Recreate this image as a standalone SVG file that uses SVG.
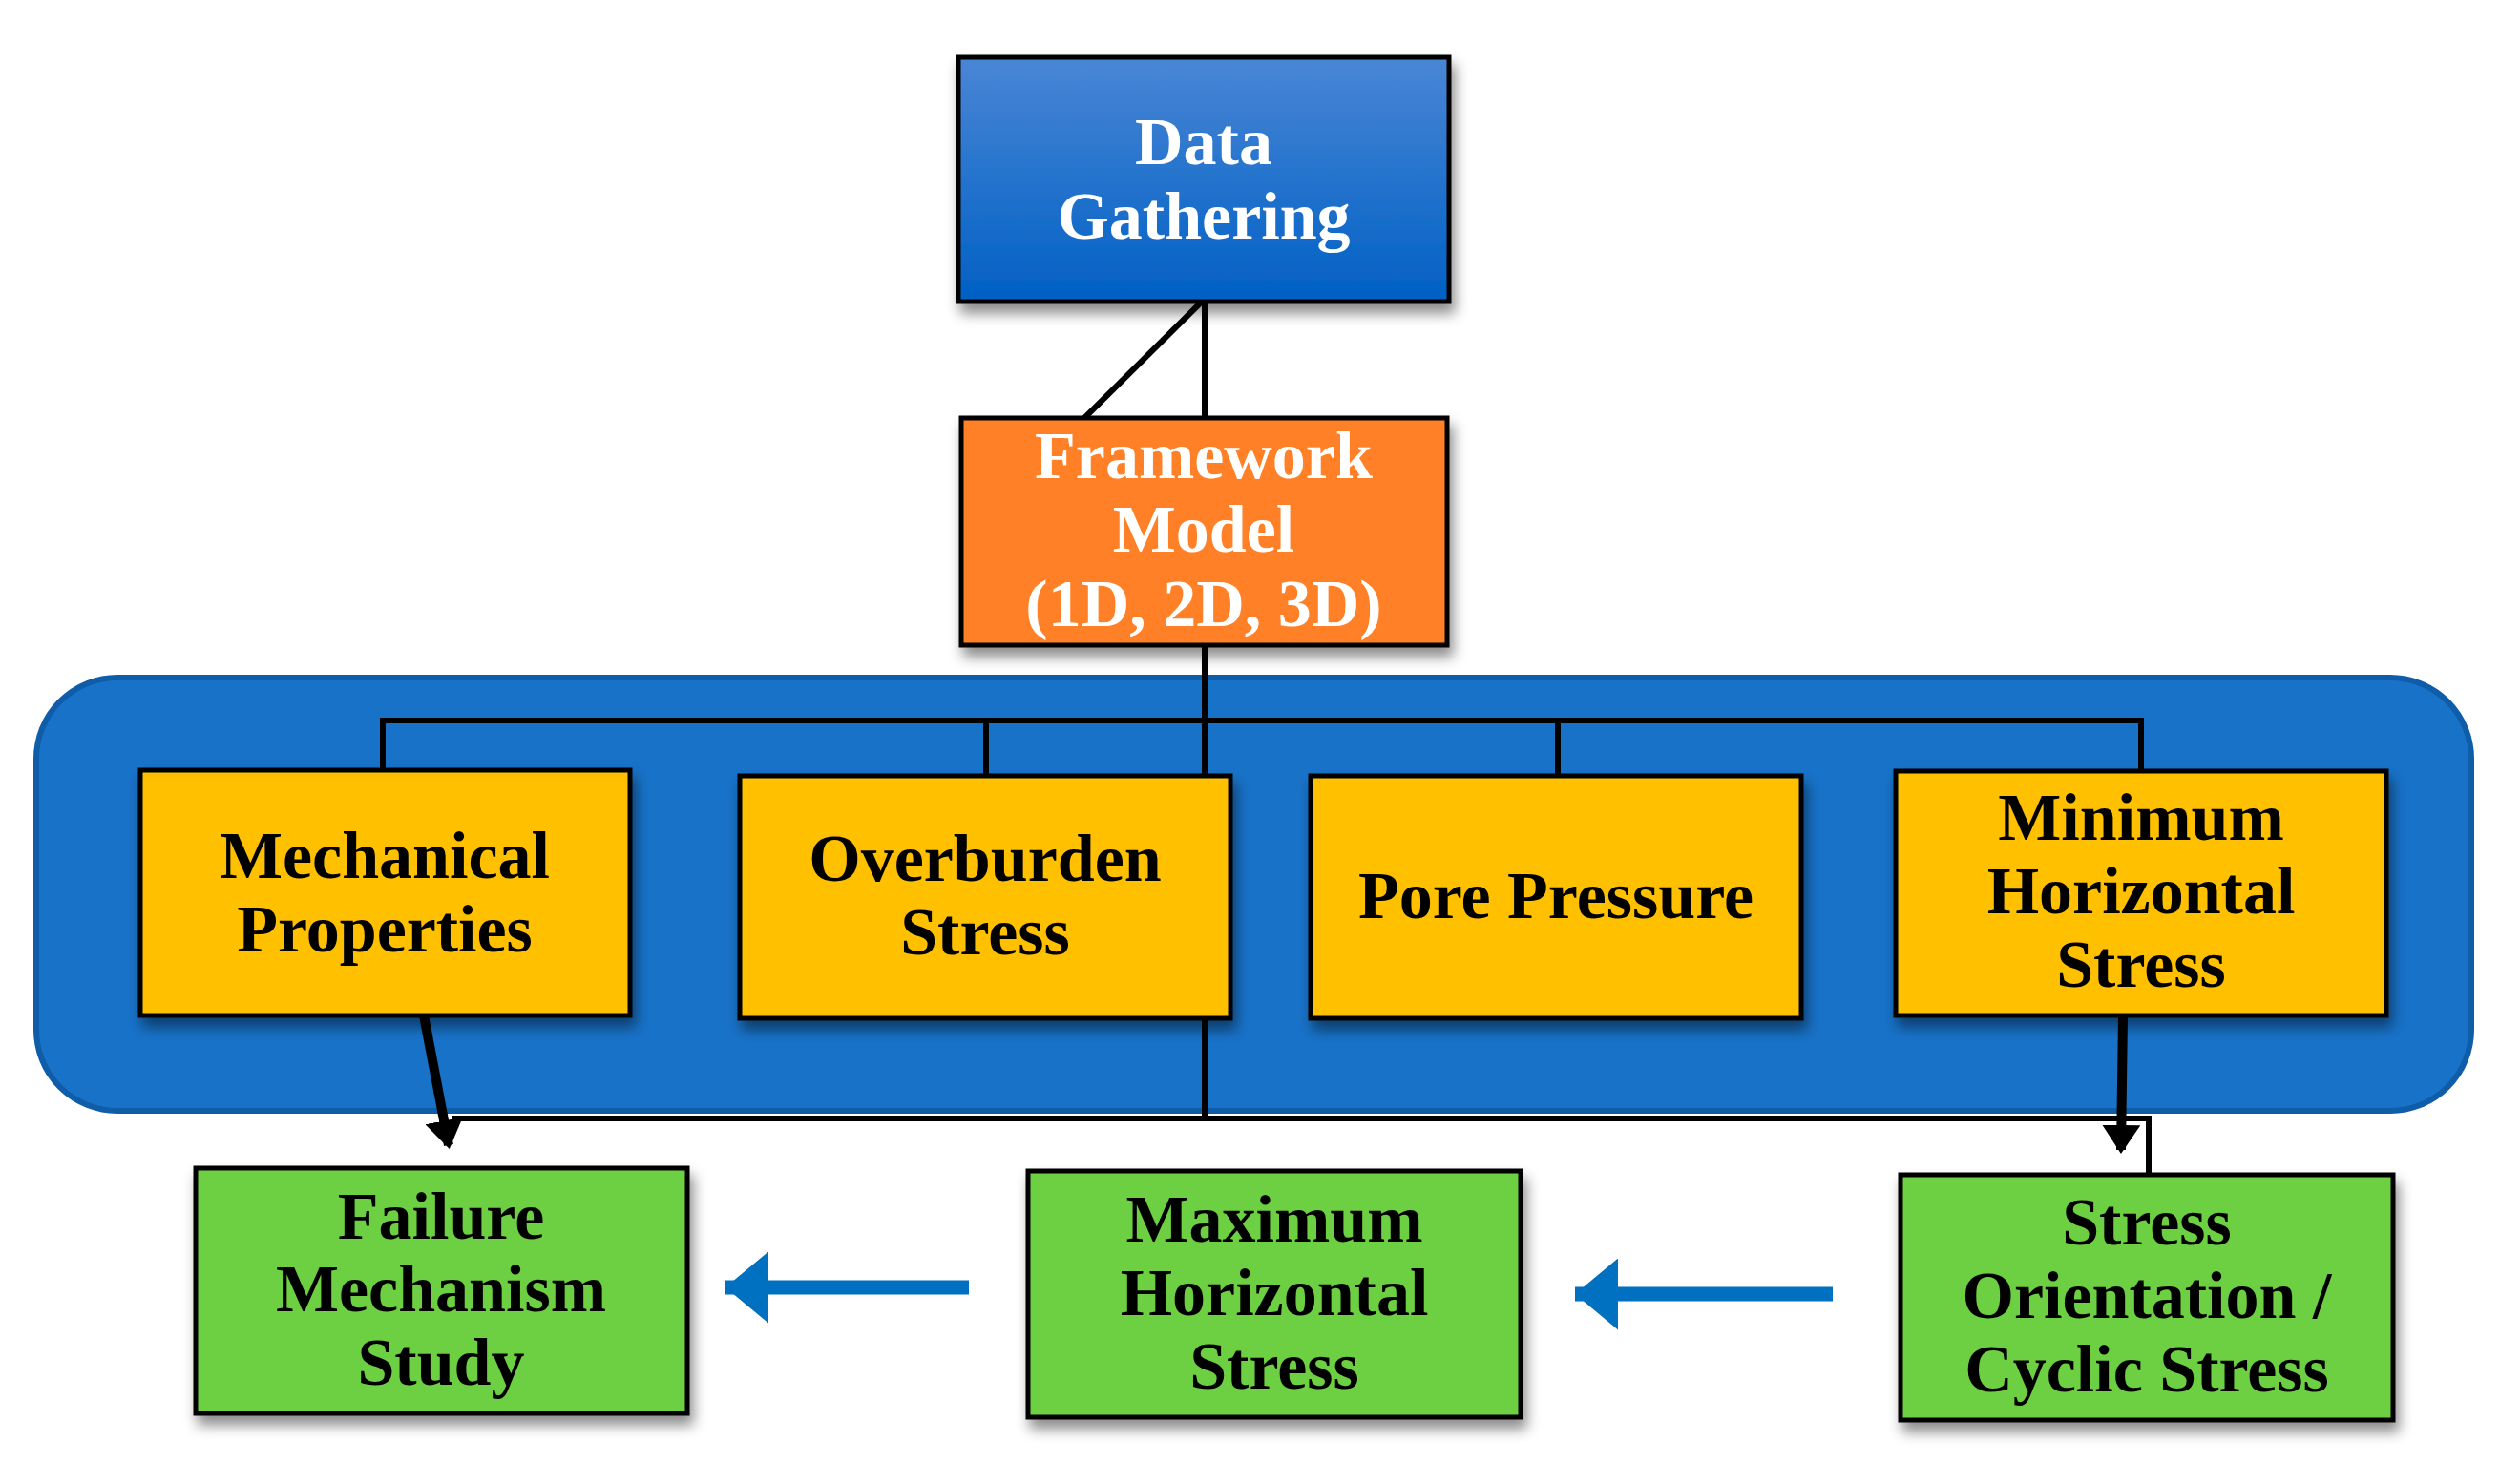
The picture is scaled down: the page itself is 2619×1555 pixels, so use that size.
<svg xmlns="http://www.w3.org/2000/svg" width="2619" height="1555" viewBox="0 0 2619 1555">
<defs>
<linearGradient id="gb" x1="0" y1="0" x2="0" y2="1"><stop offset="0" stop-color="#4A86D6"/><stop offset="1" stop-color="#0060C4"/></linearGradient>
<filter id="sh" x="-10%" y="-10%" width="130%" height="140%"><feDropShadow dx="4" dy="10" stdDeviation="7" flood-color="#000" flood-opacity="0.45"/></filter>
<marker id="ab" markerWidth="4" markerHeight="4" refX="2.6" refY="2" orient="auto" markerUnits="strokeWidth"><path d="M0,0 L3,2 L0,4 z" fill="#000"/></marker>
<marker id="bl" markerWidth="4" markerHeight="5" refX="3" refY="2.5" orient="auto" markerUnits="strokeWidth"><path d="M0,0 L3,2.5 L0,5 z" fill="#0070C0"/></marker>
</defs>
<style>
.t{font-family:"Liberation Serif","Times New Roman",serif;font-weight:bold;font-size:70px;text-anchor:middle}
.w{fill:#fff}.k{fill:#000}
.bx{stroke:#000;stroke-width:5;filter:url(#sh)}
.ln{fill:none;stroke:#000;stroke-width:6}
</style>
<rect x="38" y="710" width="2551" height="454" rx="85" fill="#1872C8" stroke="#0F5CA8" stroke-width="6"/>
<g id="connectors">
<line class="ln" x1="1262" y1="317" x2="1262" y2="438"/>
<line class="ln" x1="1258" y1="317" x2="1136" y2="438"/>
<line class="ln" x1="1262" y1="676" x2="1262" y2="813"/>
<path class="ln" d="M401 807 V755 H2243 V808"/>
<line class="ln" x1="1033" y1="755" x2="1033" y2="813"/>
<line class="ln" x1="1632" y1="755" x2="1632" y2="813"/>
<path class="ln" d="M473 1172 H2251 V1231"/>
<line class="ln" x1="1262" y1="1067" x2="1262" y2="1175"/>
<line x1="444" y1="1064" x2="470" y2="1200" stroke="#000" stroke-width="10" marker-end="url(#ab)"/>
<line x1="2224" y1="1064" x2="2222" y2="1205" stroke="#000" stroke-width="10" marker-end="url(#ab)"/>
<line x1="1015" y1="1349" x2="760" y2="1349" stroke="#0070C0" stroke-width="15" marker-end="url(#bl)"/>
<line x1="1920" y1="1356" x2="1650" y2="1356" stroke="#0070C0" stroke-width="15" marker-end="url(#bl)"/>
</g>
<g id="data"><rect class="bx" x="1004" y="60" width="514" height="256" fill="url(#gb)"/>
<text class="t w" x="1261" y="172">Data</text><text class="t w" x="1261" y="250">Gathering</text></g>
<g id="framework"><rect class="bx" x="1007" y="438" width="509" height="238" fill="#FF8027"/>
<text class="t w" x="1261" y="501">Framework</text><text class="t w" x="1261" y="578">Model</text><text class="t w" x="1261" y="656">(1D, 2D, 3D)</text></g>
<g id="mech"><rect class="bx" x="147" y="807" width="513" height="257" fill="#FFC000"/>
<text class="t k" x="403" y="920">Mechanical</text><text class="t k" x="403" y="997">Properties</text></g>
<g id="over"><rect class="bx" x="775" y="813" width="514" height="254" fill="#FFC000"/>
<text class="t k" x="1032" y="923">Overburden</text><text class="t k" x="1032" y="1000">Stress</text></g>
<g id="pore"><rect class="bx" x="1373" y="813" width="514" height="254" fill="#FFC000"/>
<text class="t k" x="1630" y="962">Pore Pressure</text></g>
<g id="minh"><rect class="bx" x="1986" y="808" width="514" height="256" fill="#FFC000"/>
<text class="t k" x="2243" y="880">Minimum</text><text class="t k" x="2243" y="957">Horizontal</text><text class="t k" x="2243" y="1034">Stress</text></g>
<g id="failure"><rect class="bx" x="205" y="1224" width="515" height="257" fill="#6DD042"/>
<text class="t k" x="462" y="1298">Failure</text><text class="t k" x="462" y="1374">Mechanism</text><text class="t k" x="462" y="1451">Study</text></g>
<g id="maxh"><rect class="bx" x="1077" y="1227" width="516" height="258" fill="#6DD042"/>
<text class="t k" x="1335" y="1301">Maximum</text><text class="t k" x="1335" y="1378">Horizontal</text><text class="t k" x="1335" y="1455">Stress</text></g>
<g id="orient"><rect class="bx" x="1991" y="1231" width="516" height="257" fill="#6DD042"/>
<text class="t k" x="2249" y="1304">Stress</text><text class="t k" x="2249" y="1381">Orientation /</text><text class="t k" x="2249" y="1458">Cyclic Stress</text></g>
</svg>
